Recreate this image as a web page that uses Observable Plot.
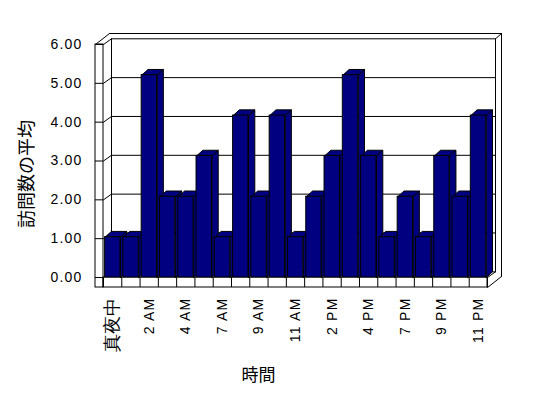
<!DOCTYPE html>
<html><head><meta charset="utf-8">
<script src="https://cdn.jsdelivr.net/npm/d3@7"></script>
<script src="https://cdn.jsdelivr.net/npm/@observablehq/plot@0.6"></script>
<style>html,body{margin:0;padding:0;background:#fff;} svg{display:block;}</style>
</head><body><div id="chart"></div>
<script>
// ---- data ----
const hours = ["真夜中","1 AM","2 AM","3 AM","4 AM","5 AM","7 AM","8 AM","9 AM","10 AM","11 AM","正午","2 PM","3 PM","4 PM","5 PM","7 PM","8 PM","9 PM","10 PM","11 PM"];
const visits = [1.04,1.04,5.21,2.08,2.08,3.13,1.04,4.17,2.08,4.17,1.04,2.08,3.13,5.21,3.13,1.04,2.08,1.04,3.13,2.08,4.17];
const shownLabels = [0,2,4,6,8,10,12,14,16,18,20];
const yTicks = [0,1,2,3,4,5,6];
const xTitle = "時間";
const yTitle = "訪問数の平均";

// ---- layout ----
const W = 548, H = 398;
const mL = 103, mR = 61, mT = 44, mB = 121;
const n = hours.length;
const PX = (W - mL - mR) / n;
const PY = (H - mT - mB) / 6;
const off = (x, y, px, py) => ({x: x + px / PX, y: y - py / PY});
const BAR = [6.3, -5.7], WIN = [8, -5.7], WOUT = [14, -11];
const FLOOR = 10, LWALL = 8;
const fill = "#000080";

const data = visits.map((v, i) => ({i, v, a: i + 1.6 / PX, b: i + 17 / PX}));
const tops = [], sides = [];
data.forEach(d => {
  const p1 = {x: d.a, y: d.v}, p2 = {x: d.b, y: d.v};
  const p3 = off(d.b, d.v, ...BAR), p4 = off(d.a, d.v, ...BAR);
  [p1, p2, p3, p4, p1].forEach(p => tops.push({...p, z: d.i}));
  const s1 = {x: d.b, y: 0}, s2 = off(d.b, 0, ...BAR);
  [s1, p2, p3, s2, s1].forEach(p => sides.push({...p, z: d.i}));
});

const fb = off(0, 0, 0, FLOOR).y;
const lw = off(0, 0, -LWALL, 0).x;
const segList = [
  [{x: lw, y: 6}, off(lw, 6, ...WOUT)],
  [off(n, 6, ...WIN), off(n, 6, ...WOUT)],
  [{x: n, y: fb}, off(n, fb, ...WOUT)],
  [{x: n, y: 0}, off(n, 0, ...WIN)],
  [off(lw, 6, ...WOUT), off(n, 6, ...WOUT)],
  [off(n, 6, ...WOUT), off(n, fb, ...WOUT)]
];
yTicks.forEach(t => segList.push([{x: 0, y: t}, off(0, t, ...WIN)]));
const segs = segList.flatMap((s, k) => s.map(p => ({...p, z: k})));

const latin = "'Liberation Sans', Arial, sans-serif";
const cjk = "'Noto Sans CJK JP', sans-serif";
const isCJK = s => /[\u3000-\u9fff]/.test(s);

const chart = Plot.plot({
  width: W, height: H,
  marginLeft: mL, marginRight: mR, marginTop: mT, marginBottom: mB,
  x: {type: "linear", domain: [0, n], axis: null},
  y: {type: "linear", domain: [0, 6], axis: null},
  style: {fontFamily: latin, background: "#fff"},
  marks: [
    Plot.frame({dx: WIN[0], dy: WIN[1], stroke: "black", fill: "white"}),
    Plot.ruleY([1,2,3,4,5], {dx: WIN[0], dy: WIN[1], stroke: "black"}),
    Plot.line(segs, {x: "x", y: "y", z: "z", stroke: "black", strokeWidth: 1}),
    Plot.rect([0], {x1: lw, x2: 0, y1: fb, y2: 6, fill: "white", stroke: "black"}),
    Plot.ruleY(yTicks, {x1: lw, x2: 0, stroke: "black"}),
    Plot.rect([0], {x1: 0, x2: n, y1: fb, y2: 0, fill: "white", stroke: "black"}),
    Plot.ruleX(d3.range(0, n + 1), {y1: fb, y2: 0, stroke: "black"}),
    Plot.line(sides, {x: "x", y: "y", z: "z", fill, stroke: "black", strokeWidth: 1}),
    Plot.line(tops, {x: "x", y: "y", z: "z", fill, stroke: "black", strokeWidth: 1}),
    Plot.rect(data, {x1: "a", x2: "b", y1: 0, y2: "v", fill, stroke: "black", strokeWidth: 1}),
    Plot.text(yTicks, {x: 0, y: d => d, text: d => d3.format(".2f")(d), dx: -21, textAnchor: "end", fontSize: 14, fill: "black", className: "ytick"}),
    Plot.text(shownLabels, {x: i => i + 0.5, y: 0, text: i => hours[i], dy: 20, rotate: -90, textAnchor: "end",
      fontSize: i => isCJK(hours[i]) ? 18 : 14, fontFamily: i => isCJK(hours[i]) ? cjk : latin, fill: "black", className: "xlab"}),
    Plot.text([xTitle], {frameAnchor: "bottom", text: d => d, textAnchor: "middle", dx: -37, dy: 103, fontSize: 17, fontFamily: cjk, fill: "black"}),
    Plot.text([yTitle], {frameAnchor: "left", text: d => d, textAnchor: "middle", dx: -76, dy: 13, rotate: -90, fontSize: 18, fontFamily: cjk, fill: "black"})
  ]
});
d3.select(chart).selectAll(".ytick text, .xlab text")
  .filter(function() { return !isCJK(this.textContent); })
  .attr("letter-spacing", "1.2px");
document.getElementById("chart").appendChild(chart);
</script>
</body></html>
